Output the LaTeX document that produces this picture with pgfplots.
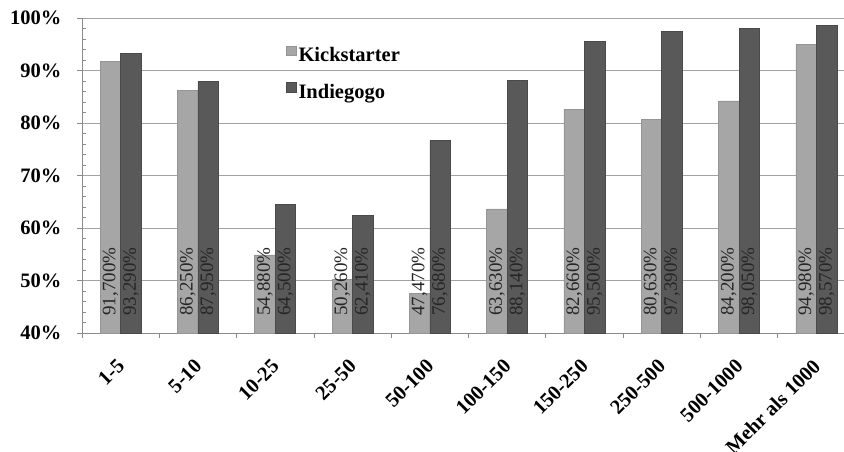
\documentclass[border=0pt]{standalone}
\usepackage{fontspec}
\setmainfont{Liberation Serif}
\usepackage{pgfplots}
\pgfplotsset{compat=1.18}
\definecolor{kick}{HTML}{A6A6A6}
\definecolor{kickd}{HTML}{959595}
\definecolor{indi}{HTML}{595959}
\definecolor{indid}{HTML}{4A4A4A}
\definecolor{gridc}{HTML}{A3A3A3}
\definecolor{axc}{HTML}{8A8A8A}
\begin{document}
\begin{tikzpicture}
\useasboundingbox (0,0) rectangle (844pt,452pt);
\begin{axis}[
  at={(82pt,119pt)}, anchor=south west,
  width=762pt, height=315pt, scale only axis,
  xmin=-0.5, xmax=9.357, ymin=40, ymax=100,
  axis x line*=bottom, axis y line*=left,
  axis line style={-, draw=axc, line width=0.9pt},
  /pgf/number format/assume math mode=true,
  ytick={40,50,...,100},
  yticklabel={\pgfmathprintnumber{\tick}\%},
  yticklabel style={font=\bfseries\fontsize{20.5}{24}\selectfont, xshift=-12pt},
  ymajorgrids, grid style={draw=gridc, line width=0.9pt},
  tick align=outside, major tick length=5pt,
  tick style={draw=axc, line width=0.8pt},
  extra y ticks={42,44,46,48,52,54,56,58,62,64,66,68,72,74,76,78,82,84,86,88,92,94,96,98},
  extra y tick labels={},
  extra y tick style={tick align=inside, major tick length=4pt, ymajorgrids=false},
  xtick={-0.5,0.5,...,8.5},
  xticklabels={},
  extra x ticks={0,1,...,9},
  extra x tick labels={1-5,5-10,10-25,25-50,50-100,100-150,150-250,250-500,500-1000,Mehr als 1000},
  extra x tick style={major tick length=0pt, xmajorgrids=false,
     xticklabel style={font=\bfseries\fontsize{20.5}{24}\selectfont, inner sep=1pt, xshift=1pt, yshift=-29pt, rotate=45, anchor=east}},
  clip=false,
  legend style={at={(0.268,0.913)}, anchor=north west, draw=none, fill=none,
     font=\bfseries\fontsize{20.5}{24}\selectfont, row sep=17pt, inner sep=0pt},
  legend cell align=left,
  legend image code/.code={\fill[#1] (0pt,0pt) rectangle (9.5pt,9.5pt);},
]
\addplot[ybar, bar width=20.5pt, bar shift=-10.25pt, fill=kick, draw=kickd, line width=0.6pt]
  coordinates {(0,91.7) (1,86.25) (2,54.88) (3,50.26) (4,47.47) (5,63.63) (6,82.66) (7,80.63) (8,84.2) (9,94.98)};
\addlegendentry{Kickstarter}
\addplot[ybar, bar width=20.5pt, bar shift=10.25pt, fill=indi, draw=indid, line width=0.6pt]
  coordinates {(0,93.29) (1,87.95) (2,64.5) (3,62.41) (4,76.68) (5,88.14) (6,95.5) (7,97.39) (8,98.05) (9,98.57)};
\addlegendentry{Indiegogo}
\addplot[draw=none, mark=none, forget plot, point meta=explicit,
  nodes near coords={\pgfmathprintnumber[fixed,fixed zerofill,precision=3,use comma]{\pgfplotspointmeta}\%},
  every node near coord/.append style={xshift=-10.25pt, rotate=90, anchor=center, inner sep=0pt,
     font=\fontsize{19}{22}\selectfont, text=black!85}]
  coordinates {(0,49.8) [91.7] (1,49.8) [86.25] (2,49.8) [54.88] (3,49.8) [50.26] (4,49.8) [47.47]
               (5,49.8) [63.63] (6,49.8) [82.66] (7,49.8) [80.63] (8,49.8) [84.2] (9,49.8) [94.98]};
\addplot[draw=none, mark=none, forget plot, point meta=explicit,
  nodes near coords={\pgfmathprintnumber[fixed,fixed zerofill,precision=3,use comma]{\pgfplotspointmeta}\%},
  every node near coord/.append style={xshift=10.25pt, rotate=90, anchor=center, inner sep=0pt,
     font=\fontsize{19}{22}\selectfont, text=black!85}]
  coordinates {(0,49.8) [93.29] (1,49.8) [87.95] (2,49.8) [64.5] (3,49.8) [62.41] (4,49.8) [76.68]
               (5,49.8) [88.14] (6,49.8) [95.5] (7,49.8) [97.39] (8,49.8) [98.05] (9,49.8) [98.57]};
\end{axis}
\end{tikzpicture}
\end{document}
